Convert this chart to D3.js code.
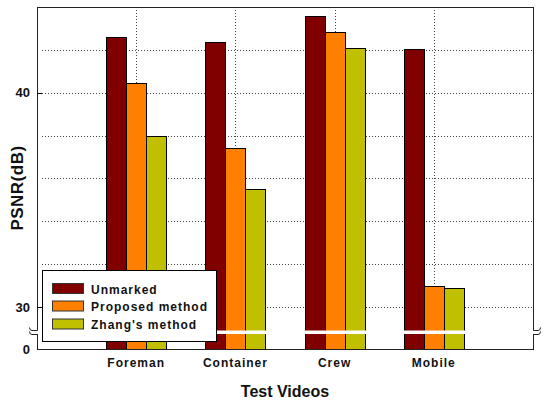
<!DOCTYPE html>
<html><head><meta charset="utf-8">
<script src="https://cdn.jsdelivr.net/npm/d3@7"></script>
<style>body{margin:0;background:#fff}svg{display:block}</style>
</head><body><svg id="chart" width="545" height="402"></svg>
<script>
// PSNR (dB) of each test video for three watermarking settings
const categories = ["Foreman", "Container", "Crew", "Mobile"];
const seriesNames = ["Unmarked", "Proposed method", "Zhang's method"];
const unmarked = [42.6, 42.37, 43.57, 42.04];
const proposed = [40.47, 37.42, 42.85, 30.97];
const zhang = [37.96, 35.49, 42.09, 30.9];
const yTickLabels = [0, 30, 40];
const yGridValues = [30, 32, 34, 36, 38, 40, 42];
const colors = ["#800000", "#ff8000", "#c0c000"];

const series = [unmarked, proposed, zhang];
const svg = d3.select("#chart");
const L = 37, R = 533, T = 7, B = 349;
const font = "'Liberation Sans', Arial, sans-serif";

const x = d3.scaleLinear().domain([0, categories.length + 1]).range([L, R]);
// broken value axis: 0 at the floor, 30..44 stretched over the plot
const y = d3.scaleLinear().domain([0, 30, 44]).range([B, 307, T]);
const barW = 20;

// dotted grid
const grid = svg.append("g").attr("stroke", "#444").attr("stroke-width", 1)
  .attr("stroke-dasharray", "1,2");
grid.selectAll("line.h").data(yGridValues).join("line").attr("class", "h")
  .attr("x1", L + 5).attr("x2", R)
  .attr("y1", d => Math.round(y(d)) + 0.5).attr("y2", d => Math.round(y(d)) + 0.5);
grid.selectAll("line.v").data(categories).join("line").attr("class", "v")
  .attr("x1", (d, i) => Math.round(x(i + 1)) + 0.5).attr("x2", (d, i) => Math.round(x(i + 1)) + 0.5)
  .attr("y1", T).attr("y2", 331);

// bars
series.forEach((vals, s) => {
  svg.append("g").selectAll("rect").data(vals).join("rect")
    .attr("x", (d, i) => Math.round(x(i + 1) - 1.5 * barW + s * barW) + 0.5)
    .attr("width", barW)
    .attr("y", d => Math.round(y(d)) + 0.5)
    .attr("height", d => Math.round(y(0)) - Math.round(y(d)))
    .attr("fill", colors[s])
    .attr("stroke", "#000").attr("stroke-width", 1);
});

// frame
svg.append("rect").attr("x", L + 0.5).attr("y", T + 0.5)
  .attr("width", R - L).attr("height", B - T)
  .attr("fill", "none").attr("stroke", "#222").attr("stroke-width", 1);

// ticks at labelled values
const yAxis = d3.axisLeft(y).tickValues(yTickLabels).tickSize(0).tickPadding(7);
const ax = svg.append("g").attr("transform", `translate(${L},0)`).call(yAxis);
ax.select(".domain").remove();
ax.selectAll("text").attr("font-family", font).attr("font-weight", "bold")
  .attr("font-size", 13).attr("fill", "#111");
svg.selectAll("line.tk").data([30, 40]).join("line").attr("class", "tk")
  .attr("x1", L).attr("x2", L + 5)
  .attr("y1", d => Math.round(y(d)) + 0.5).attr("y2", d => Math.round(y(d)) + 0.5)
  .attr("stroke", "#000");

// axis break band
svg.append("rect").attr("x", 26).attr("y", 330.5).attr("width", 518).attr("height", 3.5)
  .attr("fill", "#fff");
const brk = svg.append("g").attr("fill", "none").attr("stroke", "#222").attr("stroke-width", 1);
brk.append("path").attr("d", `M${L + 0.5},330.5 H32 Q29.5,330.5 29.5,327.5`);
brk.append("path").attr("d", `M${L + 0.5},334.5 H32 Q29.5,334.5 29.5,331.5`);
brk.append("path").attr("d", `M${R + 0.5},330.5 H538 Q540.5,330.5 540.5,327.5`);
brk.append("path").attr("d", `M${R + 0.5},334.5 H538 Q540.5,334.5 540.5,331.5`);

// category labels
svg.append("g").selectAll("text").data(categories).join("text")
  .attr("x", (d, i) => x(i + 1)).attr("y", 367)
  .attr("text-anchor", "middle")
  .attr("font-family", font).attr("font-weight", "bold").attr("font-size", 12)
  .attr("letter-spacing", 1).attr("fill", "#111").text(d => d);

// axis titles
svg.append("text").attr("x", 285).attr("y", 397).attr("text-anchor", "middle")
  .attr("font-family", font).attr("font-weight", "bold").attr("font-size", 16)
  .attr("fill", "#111").text("Test Videos");
svg.append("text").attr("transform", "translate(23,188) rotate(-90)")
  .attr("text-anchor", "middle")
  .attr("font-family", font).attr("font-weight", "bold").attr("font-size", 17)
  .attr("letter-spacing", 0.5).attr("fill", "#111").text("PSNR(dB)");

// legend
const lg = svg.append("g");
lg.append("rect").attr("x", 42.5).attr("y", 270.5).attr("width", 174).attr("height", 71)
  .attr("fill", "#fff").attr("stroke", "#000");
const rowsY = [283.5, 301, 319];
seriesNames.forEach((name, s) => {
  lg.append("rect").attr("x", 52.5).attr("y", rowsY[s]).attr("width", 31).attr("height", 10)
    .attr("fill", colors[s]).attr("stroke", "#333");
  lg.append("text").attr("x", 91).attr("y", rowsY[s] + 10)
    .attr("font-family", font).attr("font-weight", "bold").attr("font-size", 12)
    .attr("letter-spacing", 1).attr("fill", "#111").text(name);
});
</script></body></html>
